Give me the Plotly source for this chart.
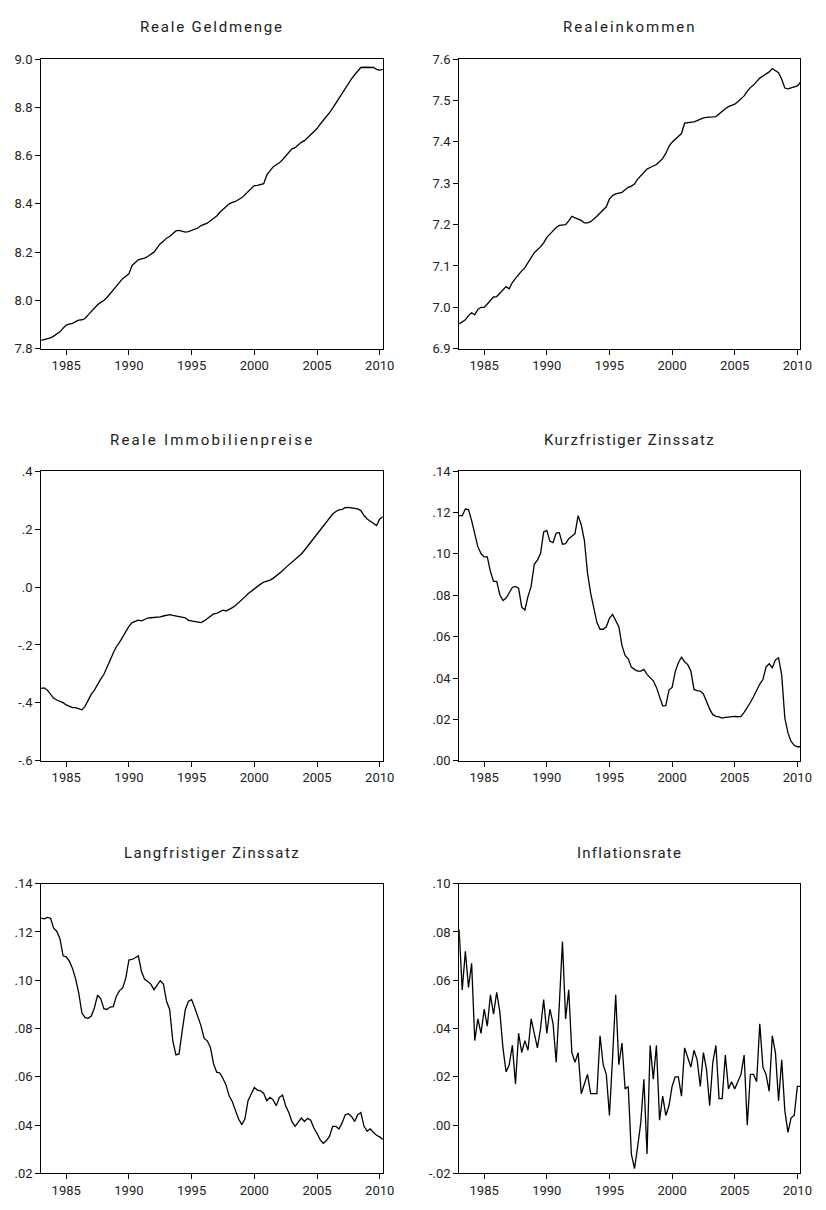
import pandas as pd
import plotly.graph_objects as go

# Quarterly observations 1983Q1 .. 2010Q2
quarters = pd.period_range("1983Q1", "2010Q2", freq="Q")

reale_geldmenge = [
    7.835, 7.838, 7.840, 7.845, 7.852, 7.860, 7.870, 7.885, 7.898, 7.902,
    7.905, 7.912, 7.918, 7.920, 7.925, 7.940, 7.955, 7.968, 7.982, 7.992,
    8.000, 8.012, 8.028, 8.040, 8.058, 8.075, 8.090, 8.100, 8.110, 8.145,
    8.158, 8.168, 8.172, 8.175, 8.182, 8.190, 8.200, 8.218, 8.235, 8.245,
    8.258, 8.265, 8.275, 8.288, 8.290, 8.286, 8.283, 8.285, 8.290, 8.296,
    8.300, 8.310, 8.314, 8.320, 8.330, 8.340, 8.350, 8.365, 8.377, 8.390,
    8.400, 8.406, 8.410, 8.418, 8.425, 8.438, 8.450, 8.463, 8.476, 8.477,
    8.480, 8.484, 8.520, 8.537, 8.553, 8.562, 8.570, 8.583, 8.598, 8.612,
    8.628, 8.633, 8.645, 8.655, 8.662, 8.675, 8.688, 8.700, 8.712, 8.730,
    8.745, 8.760, 8.778, 8.797, 8.818, 8.838, 8.858, 8.878, 8.900, 8.918,
    8.935, 8.952, 8.965, 8.966, 8.966, 8.967, 8.965, 8.957, 8.954, 8.957,
]

realeinkommen = [
    6.960, 6.965, 6.970, 6.980, 6.987, 6.982, 6.995, 7.000, 7.000, 7.008,
    7.017, 7.025, 7.026, 7.034, 7.042, 7.050, 7.045, 7.060, 7.070, 7.080,
    7.088, 7.096, 7.107, 7.120, 7.132, 7.139, 7.146, 7.156, 7.169, 7.177,
    7.186, 7.193, 7.198, 7.199, 7.200, 7.209, 7.220, 7.216, 7.213, 7.210,
    7.204, 7.204, 7.207, 7.213, 7.220, 7.228, 7.236, 7.243, 7.262, 7.270,
    7.274, 7.276, 7.278, 7.284, 7.290, 7.293, 7.298, 7.310, 7.318, 7.327,
    7.334, 7.338, 7.342, 7.345, 7.352, 7.360, 7.372, 7.389, 7.399, 7.406,
    7.412, 7.420, 7.445, 7.446, 7.447, 7.448, 7.451, 7.454, 7.458, 7.459,
    7.459, 7.460, 7.461, 7.468, 7.474, 7.480, 7.485, 7.488, 7.491, 7.497,
    7.504, 7.511, 7.522, 7.531, 7.537, 7.545, 7.554, 7.559, 7.564, 7.569,
    7.577, 7.573, 7.567, 7.551, 7.530, 7.528, 7.530, 7.533, 7.535, 7.544,
]

reale_immobilienpreise = [
    -0.350, -0.348, -0.356, -0.370, -0.384, -0.390, -0.395, -0.399, -0.407, -0.412,
    -0.416, -0.416, -0.420, -0.424, -0.412, -0.390, -0.370, -0.356, -0.336, -0.318,
    -0.302, -0.280, -0.253, -0.228, -0.206, -0.191, -0.172, -0.153, -0.136, -0.123,
    -0.119, -0.114, -0.117, -0.111, -0.107, -0.106, -0.105, -0.105, -0.103, -0.100,
    -0.098, -0.095, -0.098, -0.100, -0.102, -0.103, -0.106, -0.115, -0.117, -0.119,
    -0.123, -0.123, -0.117, -0.109, -0.100, -0.093, -0.091, -0.086, -0.080, -0.083,
    -0.078, -0.071, -0.064, -0.055, -0.043, -0.034, -0.023, -0.014, -0.006, 0.002,
    0.010, 0.017, 0.020, 0.024, 0.030, 0.038, 0.047, 0.056, 0.067, 0.076,
    0.085, 0.095, 0.105, 0.114, 0.127, 0.141, 0.152, 0.165, 0.180, 0.195,
    0.209, 0.222, 0.236, 0.252, 0.261, 0.266, 0.268, 0.274, 0.275, 0.274,
    0.272, 0.270, 0.264, 0.247, 0.235, 0.227, 0.220, 0.212, 0.235, 0.243,
]

kurzfristiger_zins = [
    0.1185, 0.1185, 0.1217, 0.1214, 0.1161, 0.1090, 0.1034, 0.1002, 0.0986, 0.0986,
    0.0915, 0.0867, 0.0867, 0.0803, 0.0775, 0.0787, 0.0811, 0.0838, 0.0843, 0.0835,
    0.0743, 0.0729, 0.0795, 0.0843, 0.0950, 0.0970, 0.1002, 0.1106, 0.1114, 0.1061,
    0.1055, 0.1101, 0.1103, 0.1047, 0.1050, 0.1074, 0.1085, 0.1098, 0.1185, 0.1141,
    0.1066, 0.0907, 0.0811, 0.0732, 0.0668, 0.0636, 0.0636, 0.0648, 0.0689, 0.0708,
    0.0676, 0.0648, 0.0557, 0.0509, 0.0493, 0.0453, 0.0442, 0.0434, 0.0434, 0.0442,
    0.0418, 0.0402, 0.0387, 0.0355, 0.0310, 0.0266, 0.0267, 0.0342, 0.0355, 0.0430,
    0.0474, 0.0501, 0.0479, 0.0465, 0.0434, 0.0345, 0.0339, 0.0337, 0.0323, 0.0286,
    0.0250, 0.0223, 0.0215, 0.0212, 0.0207, 0.0210, 0.0212, 0.0215, 0.0215, 0.0213,
    0.0215, 0.0234, 0.0255, 0.0282, 0.0310, 0.0345, 0.0371, 0.0393, 0.0453, 0.0469,
    0.0450, 0.0488, 0.0498, 0.0414, 0.0207, 0.0135, 0.0094, 0.0075, 0.0068, 0.0068,
]

langfristiger_zins = [
    0.1257, 0.1254, 0.1260, 0.1257, 0.1216, 0.1202, 0.1172, 0.1101, 0.1097, 0.1079,
    0.1049, 0.1006, 0.0947, 0.0865, 0.0845, 0.0842, 0.0852, 0.0886, 0.0938, 0.0924,
    0.0882, 0.0879, 0.0889, 0.0891, 0.0934, 0.0957, 0.0968, 0.1009, 0.1084, 0.1086,
    0.1093, 0.1101, 0.1036, 0.1004, 0.0995, 0.0984, 0.0961, 0.0981, 0.0998, 0.0984,
    0.0913, 0.0879, 0.0749, 0.0691, 0.0695, 0.0790, 0.0879, 0.0913, 0.0920, 0.0886,
    0.0845, 0.0811, 0.0759, 0.0749, 0.0722, 0.0654, 0.0619, 0.0616, 0.0593, 0.0565,
    0.0520, 0.0497, 0.0460, 0.0425, 0.0402, 0.0425, 0.0501, 0.0529, 0.0556, 0.0545,
    0.0542, 0.0531, 0.0501, 0.0515, 0.0504, 0.0480, 0.0515, 0.0524, 0.0480, 0.0452,
    0.0415, 0.0395, 0.0411, 0.0429, 0.0415, 0.0428, 0.0420, 0.0388, 0.0365, 0.0340,
    0.0324, 0.0336, 0.0354, 0.0395, 0.0395, 0.0384, 0.0409, 0.0443, 0.0447, 0.0436,
    0.0415, 0.0443, 0.0452, 0.0395, 0.0375, 0.0384, 0.0370, 0.0358, 0.0351, 0.0340,
]

inflationsrate = [
    0.081, 0.056, 0.072, 0.057, 0.067, 0.035, 0.044, 0.038, 0.048, 0.041,
    0.054, 0.046, 0.055, 0.047, 0.032, 0.022, 0.025, 0.033, 0.017, 0.038,
    0.030, 0.035, 0.031, 0.044, 0.038, 0.032, 0.040, 0.052, 0.038, 0.048,
    0.042, 0.026, 0.050, 0.076, 0.044, 0.056, 0.030, 0.026, 0.030, 0.013,
    0.017, 0.021, 0.013, 0.013, 0.013, 0.037, 0.025, 0.021, 0.004, 0.028,
    0.054, 0.025, 0.034, 0.015, 0.016, -0.012, -0.018, -0.009, 0.001, 0.019,
    -0.012, 0.033, 0.019, 0.033, 0.002, 0.012, 0.004, 0.008, 0.016, 0.020,
    0.020, 0.012, 0.032, 0.028, 0.024, 0.031, 0.027, 0.016, 0.030, 0.023,
    0.008, 0.026, 0.033, 0.011, 0.011, 0.029, 0.015, 0.018, 0.015, 0.018,
    0.021, 0.029, 0.000, 0.021, 0.021, 0.018, 0.042, 0.024, 0.021, 0.014,
    0.037, 0.030, 0.010, 0.027, 0.006, -0.003, 0.003, 0.004, 0.016, 0.016,
]

titles = ["Reale Geldmenge", "Realeinkommen", "Reale Immobilienpreise",
          "Kurzfristiger Zinssatz", "Langfristiger Zinssatz", "Inflationsrate"]

x_tick_vals = [1985, 1990, 1995, 2000, 2005, 2010]
x_tick_text = ["1985", "1990", "1995", "2000", "2005", "2010"]

y_ticks = [
    ([7.8, 8.0, 8.2, 8.4, 8.6, 8.8, 9.0], ["7.8", "8.0", "8.2", "8.4", "8.6", "8.8", "9.0"]),
    ([6.9, 7.0, 7.1, 7.2, 7.3, 7.4, 7.5, 7.6], ["6.9", "7.0", "7.1", "7.2", "7.3", "7.4", "7.5", "7.6"]),
    ([-0.6, -0.4, -0.2, 0.0, 0.2, 0.4], ["-.6", "-.4", "-.2", ".0", ".2", ".4"]),
    ([0.00, 0.02, 0.04, 0.06, 0.08, 0.10, 0.12, 0.14], [".00", ".02", ".04", ".06", ".08", ".10", ".12", ".14"]),
    ([0.02, 0.04, 0.06, 0.08, 0.10, 0.12, 0.14], [".02", ".04", ".06", ".08", ".10", ".12", ".14"]),
    ([-0.02, 0.00, 0.02, 0.04, 0.06, 0.08, 0.10], ["-.02", ".00", ".02", ".04", ".06", ".08", ".10"]),
]
y_ranges = [[7.8, 9.0], [6.9, 7.6], [-0.6, 0.4], [0.0, 0.14], [0.02, 0.14], [-0.02, 0.10]]

series = [reale_geldmenge, realeinkommen, reale_immobilienpreise,
          kurzfristiger_zins, langfristiger_zins, inflationsrate]

x = [q.year + (q.quarter - 1) / 4 for q in quarters]

W, H = 826, 1210
col_px = [(41.7, 388.0), (465.3, 811.3)]
row_px = [(52.7, 346.0), (470.0, 763.3), (887.7, 1181.0)]
title_px = [20.7, 438.0, 856.7]
title_spacing = [1.8, 2.0, 2.2, 1.3, 1.4, 1.2]

FONT = "Roboto, 'Liberation Sans', Arial, sans-serif"
fig = go.Figure()
layout = dict(
    width=W, height=H, margin=dict(l=0, r=0, t=0, b=0),
    paper_bgcolor="white", plot_bgcolor="white", showlegend=False,
    font=dict(family=FONT, size=13, color="#222222"),
)
annotations = []
for k in range(6):
    r, c = divmod(k, 2)
    ax = "" if k == 0 else str(k + 1)
    fig.add_trace(go.Scatter(
        x=x, y=series[k], mode="lines",
        line=dict(color="black", width=1.3),
        xaxis="x" + ax, yaxis="y" + ax, hoverinfo="skip",
    ))
    x0, x1 = col_px[c]
    yt, yb = row_px[r]
    layout["xaxis" + ax] = dict(
        domain=[x0 / W, x1 / W], anchor="y" + ax, range=[1983.0, 2010.25],
        tickvals=x_tick_vals, ticktext=x_tick_text, ticks="outside", ticklen=5,
        tickcolor="black", showline=True, linecolor="black", linewidth=1,
        mirror=True, showgrid=False, zeroline=False, fixedrange=True,
        tickfont=dict(size=13, color="#222222"),
    )
    tv, tt = y_ticks[k]
    layout["yaxis" + ax] = dict(
        domain=[1 - yb / H, 1 - yt / H], anchor="x" + ax, range=y_ranges[k],
        tickvals=tv, ticktext=tt, ticks="outside", ticklen=5,
        tickcolor="black", showline=True, linecolor="black", linewidth=1,
        mirror=True, showgrid=False, zeroline=False, fixedrange=True,
        tickfont=dict(size=13, color="#222222"),
    )
    annotations.append(dict(
        text='<span style="letter-spacing:%.1fpx">%s</span>' % (title_spacing[k], titles[k]),
        x=(x0 + x1) / 2 / W, y=1 - title_px[r] / H,
        xref="paper", yref="paper", xanchor="center", yanchor="middle",
        showarrow=False, font=dict(size=15, color="#222222", family=FONT),
    ))
layout["annotations"] = annotations
fig.update_layout(**layout)
# remove the default 8px page margin so the figure sits at the window origin
fig.write_html("out.html",
               config={"displayModeBar": False, "staticPlot": True},
               post_script="document.body.style.margin='0px';document.body.style.overflow='hidden';")
